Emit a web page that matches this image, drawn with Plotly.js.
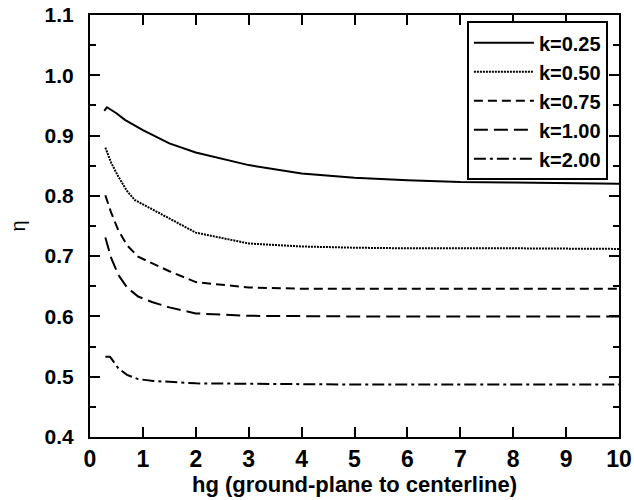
<!DOCTYPE html>
<html>
<head>
<meta charset="utf-8">
<script src="https://cdn.plot.ly/plotly-3.0.1.min.js"></script>
<style>html,body{margin:0;padding:0;background:#fff;}#chart{width:634px;height:500px;}</style>
</head>
<body>
<div id="chart"></div>
<script>
// Series names
const seriesNames = ["k=0.25", "k=0.50", "k=0.75", "k=1.00", "k=2.00"];

// k = 0.25
const x_k025 = [0.27, 0.32, 0.5, 0.66, 1, 1.5, 2, 3, 4, 5, 6, 7, 8, 9, 10];
const y_k025 = [0.941, 0.947, 0.937, 0.926, 0.909, 0.887, 0.872, 0.851, 0.837, 0.830, 0.826, 0.823, 0.822, 0.821, 0.820];

// k = 0.50
const x_k050 = [0.29, 0.4, 0.535, 0.7, 0.85, 1, 1.5, 2, 3, 4, 5, 6, 8, 10];
const y_k050 = [0.880, 0.855, 0.832, 0.808, 0.793, 0.786, 0.762, 0.739, 0.721, 0.716, 0.714, 0.713, 0.713, 0.712];

// k = 0.75
const x_k075 = [0.29, 0.4, 0.535, 0.7, 0.91, 1.17, 1.5, 2, 3, 4, 5, 6, 8, 10];
const y_k075 = [0.801, 0.772, 0.743, 0.718, 0.699, 0.688, 0.675, 0.657, 0.648, 0.646, 0.646, 0.646, 0.646, 0.646];

// k = 1.00
const x_k100 = [0.29, 0.4, 0.535, 0.7, 0.91, 1.17, 1.5, 2, 3, 4, 5, 10];
const y_k100 = [0.731, 0.697, 0.669, 0.648, 0.633, 0.624, 0.615, 0.605, 0.601, 0.600, 0.600, 0.600];

// k = 2.00
const x_k200 = [0.29, 0.38, 0.535, 0.7, 0.91, 1.2, 2, 3, 5, 10];
const y_k200 = [0.533, 0.533, 0.514, 0.503, 0.496, 0.493, 0.489, 0.488, 0.487, 0.487];

const xs = [x_k025, x_k050, x_k075, x_k100, x_k200];
const ys = [y_k025, y_k050, y_k075, y_k100, y_k200];
const dashes = ["solid", "2px,1px", "9px,5px", "14px,6px", "12px,4px,3px,4px"];
const widths = [2, 2, 2, 2, 2];

const traces = seriesNames.map((n, i) => ({
  x: xs[i], y: ys[i], name: n, type: "scatter", mode: "lines",
  line: {color: "black", width: widths[i], dash: dashes[i]}
}));

const fontFam = "Liberation Sans, Arial, sans-serif";
const layout = {
  width: 634, height: 500,
  margin: {l: 90, r: 15, t: 15, b: 63},
  paper_bgcolor: "white", plot_bgcolor: "white",
  showlegend: true,
  legend: {
    x: 0.979, y: 0.985, xanchor: "right", yanchor: "top",
    bordercolor: "black", borderwidth: 2, bgcolor: "white",
    font: {family: fontFam, size: 20, weight: "bold", color: "black"},
    itemwidth: 60, entrywidth: 105, entrywidthmode: "pixels",
    tracegroupgap: 0
  },
  xaxis: {
    range: [0, 10], dtick: 1, tick0: 0,
    showgrid: false, zeroline: false,
    showline: true, linecolor: "black", linewidth: 2, mirror: "ticks",
    ticks: "inside", ticklen: 10, tickwidth: 2, tickcolor: "black",
    tickfont: {family: fontFam, size: 23, weight: "bold", color: "black"},
    title: {text: "hg (ground-plane to centerline)", standoff: 6,
            font: {family: fontFam, size: 22, weight: "bold", color: "black"}}
  },
  yaxis: {
    range: [0.4, 1.1], dtick: 0.1, tick0: 0.4, tickformat: ".1f",
    showgrid: false, zeroline: false,
    showline: true, linecolor: "black", linewidth: 2, mirror: "ticks",
    ticks: "inside", ticklen: 10, tickwidth: 2, tickcolor: "black",
    minor: {dtick: 0.05, ticks: "inside", ticklen: 6, tickwidth: 2, tickcolor: "black", showgrid: false},
    ticklabelstandoff: 10,
    tickfont: {family: fontFam, size: 21, weight: "bold", color: "black"},
    title: {text: "η", standoff: 14,
            font: {family: fontFam, size: 20, color: "black"}}
  }
};

Plotly.newPlot("chart", traces, layout, {displayModeBar: false, staticPlot: true});
</script>
</body>
</html>
